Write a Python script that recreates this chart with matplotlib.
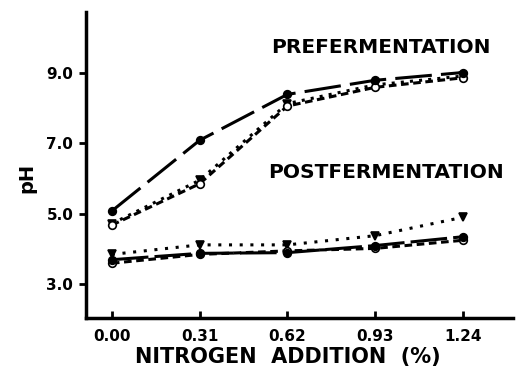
import matplotlib
matplotlib.use("Agg")
import matplotlib.pyplot as plt

plt.rcParams["font.family"] = ["DejaVu Sans"]
plt.rcParams["font.weight"] = "bold"

nitrogen = [0.00, 0.31, 0.62, 0.93, 1.24]
tick_labels = ["0.00", "0.31", "0.62", "0.93", "1.24"]

pre_solid = [5.08, 7.08, 8.38, 8.78, 9.00]
pre_dashed = [4.68, 5.85, 8.05, 8.58, 8.85]
pre_dotted = [4.72, 5.95, 8.12, 8.65, 8.90]

post_solid = [3.70, 3.88, 3.90, 4.10, 4.35]
post_dashed = [3.60, 3.85, 3.95, 4.02, 4.25]
post_dotted = [3.85, 4.12, 4.12, 4.38, 4.90]


def draw(ax, y, ls, marker, mfc):
    ax.plot(nitrogen, y, color="black", linestyle=ls, linewidth=2.2, zorder=2)
    ax.plot(nitrogen, y, linestyle="none", marker=marker, markersize=5.5,
            markerfacecolor=mfc, markeredgecolor="black", markeredgewidth=1.2, zorder=3)


fig = plt.figure(figsize=(5.17, 3.79), dpi=100)
ax = fig.add_axes([0.166, 0.161, 0.826, 0.807])

draw(ax, pre_dotted, (0, (1, 2)), "v", "black")
draw(ax, pre_dashed, (0, (2.5, 1.5)), "o", "white")
draw(ax, pre_solid, (0, (12, 3)), "o", "black")
draw(ax, post_dotted, (0, (1, 2.5)), "v", "black")
draw(ax, post_dashed, (0, (2.5, 1.5)), "o", "white")
draw(ax, post_solid, (0, (12, 2)), "o", "black")

ax.set_xlim(-0.092, 1.417)
ax.set_ylim(2.05, 10.71)
ax.set_xticks(nitrogen)
ax.set_xticklabels(tick_labels)
ax.set_yticks([3.0, 5.0, 7.0, 9.0])
ax.set_yticklabels(["3.0", "5.0", "7.0", "9.0"])

for s in ["top", "right"]:
    ax.spines[s].set_visible(False)
for s in ["left", "bottom"]:
    ax.spines[s].set_linewidth(2.5)

ax.tick_params(axis="x", direction="in", length=5, width=2, labelsize=11, pad=8)
ax.tick_params(axis="y", direction="out", length=5, width=2, labelsize=11, pad=4)

fig.text(288 / 517, 1 - 357 / 379, "NITROGEN  ADDITION  (%)", fontsize=15,
         fontweight="bold", ha="center", va="center")
fig.text(27 / 517, 1 - 178 / 379, "pH", fontsize=14, fontweight="bold",
         rotation=90, ha="center", va="center")

ax.text(0.95, 9.72, "PREFERMENTATION", fontsize=14.5, fontweight="bold",
        ha="center", va="center")
ax.text(0.97, 6.18, "POSTFERMENTATION", fontsize=14.5, fontweight="bold",
        ha="center", va="center")

fig.savefig("out.png", dpi=100)
